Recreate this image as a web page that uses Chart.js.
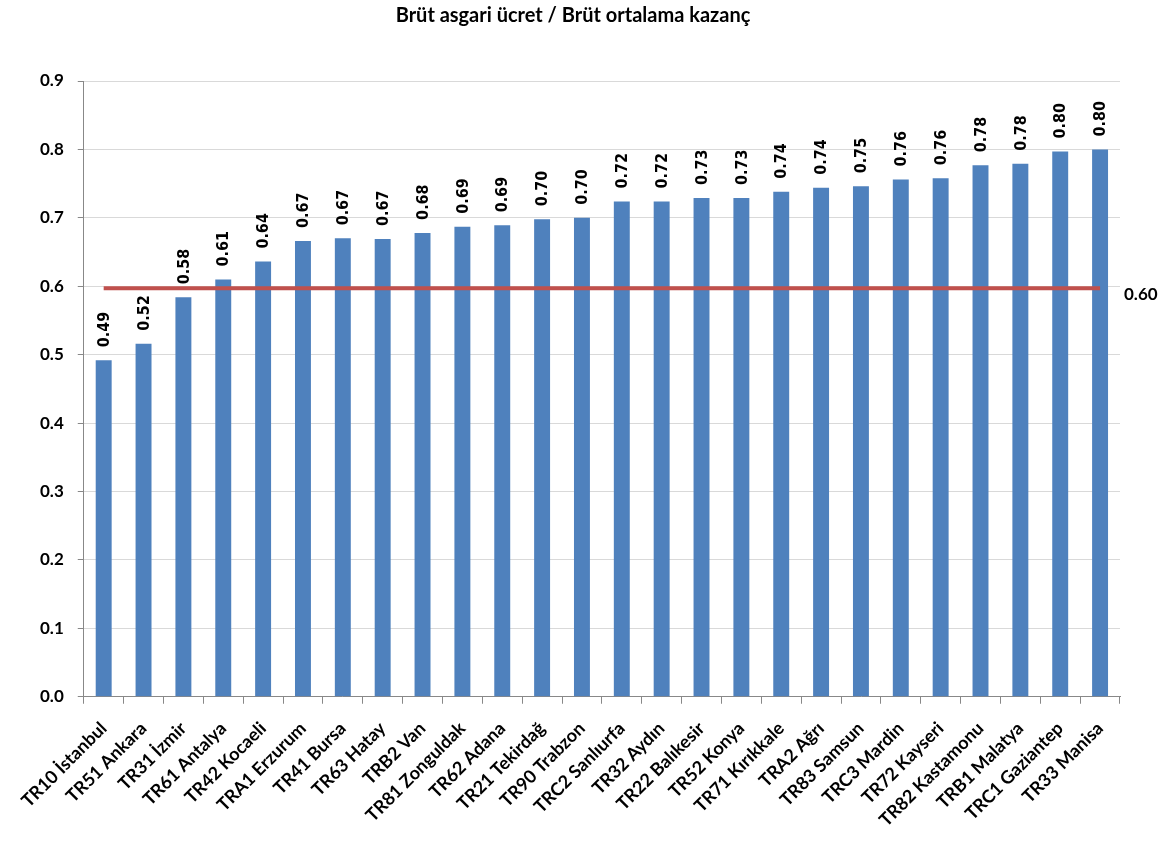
<!DOCTYPE html>
<html>
<head>
<meta charset="utf-8">
<script src="https://cdn.jsdelivr.net/npm/chart.js@4"></script>
<style>
    body { margin: 0; background: #fff; }
    #wrap { width: 1167px; height: 845px; }
</style>
</head>
<body>
<div id="wrap"><canvas id="ratioChart" width="1167" height="845"></canvas></div>
<script>
// Brüt asgari ücret / Brüt ortalama kazanç, by region

const categories = [
    'TR10 İstanbul', 'TR51 Ankara', 'TR31 İzmir', 'TR61 Antalya', 'TR42 Kocaeli',
    'TRA1 Erzurum', 'TR41 Bursa', 'TR63 Hatay', 'TRB2 Van', 'TR81 Zonguldak',
    'TR62 Adana', 'TR21 Tekirdağ', 'TR90 Trabzon', 'TRC2 Sanlıurfa', 'TR32 Aydın',
    'TR22 Balıkesir', 'TR52 Konya', 'TR71 Kırıkkale', 'TRA2 Ağrı', 'TR83 Samsun',
    'TRC3 Mardin', 'TR72 Kayseri', 'TR82 Kastamonu', 'TRB1 Malatya', 'TRC1 Gaziantep',
    'TR33 Manisa'
];

const ratioValues = [
    0.492, 0.516, 0.584, 0.610, 0.636,
    0.666, 0.670, 0.669, 0.678, 0.687,
    0.689, 0.698, 0.700, 0.724, 0.724,
    0.729, 0.729, 0.738, 0.744, 0.746,
    0.756, 0.758, 0.777, 0.779, 0.797,
    0.800
];

const referenceLevel = [
    0.597, 0.597, 0.597, 0.597, 0.597,
    0.597, 0.597, 0.597, 0.597, 0.597,
    0.597, 0.597, 0.597, 0.597, 0.597,
    0.597, 0.597, 0.597, 0.597, 0.597,
    0.597, 0.597, 0.597, 0.597, 0.597,
    0.597
];

const yAxisMin = 0;
const yAxisMax = 0.9;
const yAxisStep = 0.1;

// labels above bars (rotated) and the value at the end of the red line
const valueLabels = {
    id: 'valueLabels',
    afterDatasetsDraw(chart) {
        const ctx = chart.ctx;
        const barMeta = chart.getDatasetMeta(0);
        ctx.save();
        ctx.fillStyle = '#000';
        ctx.font = 'bold 16px "DejaVu Sans Condensed", Arial, sans-serif';
        ctx.textAlign = 'left';
        ctx.textBaseline = 'middle';
        barMeta.data.forEach((bar, i) => {
            ctx.save();
            ctx.translate(bar.x + 1, bar.y - 13);
            ctx.rotate(-Math.PI / 2);
            ctx.fillText(ratioValues[i].toFixed(2), 0, 0);
            ctx.restore();
        });

        const lineMeta = chart.getDatasetMeta(1);
        const lastIndex = lineMeta.data.length - 1;
        const lastPoint = lineMeta.data[lastIndex];
        ctx.font = 'bold 17px Lato, "Open Sans", sans-serif';
        ctx.fillText(referenceLevel[lastIndex].toFixed(2), chart.chartArea.right + 4, lastPoint.y + 6);
        ctx.restore();
    }
};

const chartCtx = document.getElementById('ratioChart');

new Chart(chartCtx, {
    type: 'bar',
    data: {
        labels: categories,
        datasets: [
            {
                type: 'bar',
                data: ratioValues,
                backgroundColor: '#4F81BD',
                borderWidth: 0,
                barPercentage: 0.4,
                categoryPercentage: 1.0,
                order: 2
            },
            {
                type: 'line',
                data: referenceLevel,
                borderColor: '#C0504D',
                borderWidth: 4,
                pointRadius: 0,
                fill: false,
                order: 1
            }
        ]
    },
    options: {
        responsive: false,
        animation: false,
        devicePixelRatio: 1,
        layout: {
            padding: { left: 26, right: 47, top: 0, bottom: 0 }
        },
        plugins: {
            legend: { display: false },
            tooltip: { enabled: false },
            title: {
                display: true,
                text: 'Brüt asgari ücret / Brüt ortalama kazanç',
                color: '#000',
                font: { family: 'Lato, "Open Sans", sans-serif', size: 20, weight: 'bold' },
                padding: { top: 4, bottom: 53 }
            }
        },
        scales: {
            x: {
                grid: {
                    display: true,
                    drawOnChartArea: false,
                    drawTicks: true,
                    tickLength: 7,
                    color: '#888'
                },
                border: { display: true, color: '#888', width: 1 },
                ticks: {
                    color: '#000',
                    autoSkip: false,
                    maxRotation: 45,
                    minRotation: 45,
                    padding: 14,
                    font: { family: 'Lato, "Open Sans", sans-serif', size: 18, weight: 'bold' }
                }
            },
            y: {
                min: yAxisMin,
                max: yAxisMax,
                grid: {
                    color: '#d9d9d9',
                    tickLength: 6,
                    tickColor: '#888'
                },
                border: { display: true, color: '#888', width: 1 },
                ticks: {
                    stepSize: yAxisStep,
                    color: '#000',
                    padding: 14,
                    font: { family: 'Lato, "Open Sans", sans-serif', size: 17, weight: 'bold' },
                    callback: function(value) {
                        return Number(value).toFixed(1);
                    }
                }
            }
        }
    },
    plugins: [valueLabels]
});
</script>
</body>
</html>
